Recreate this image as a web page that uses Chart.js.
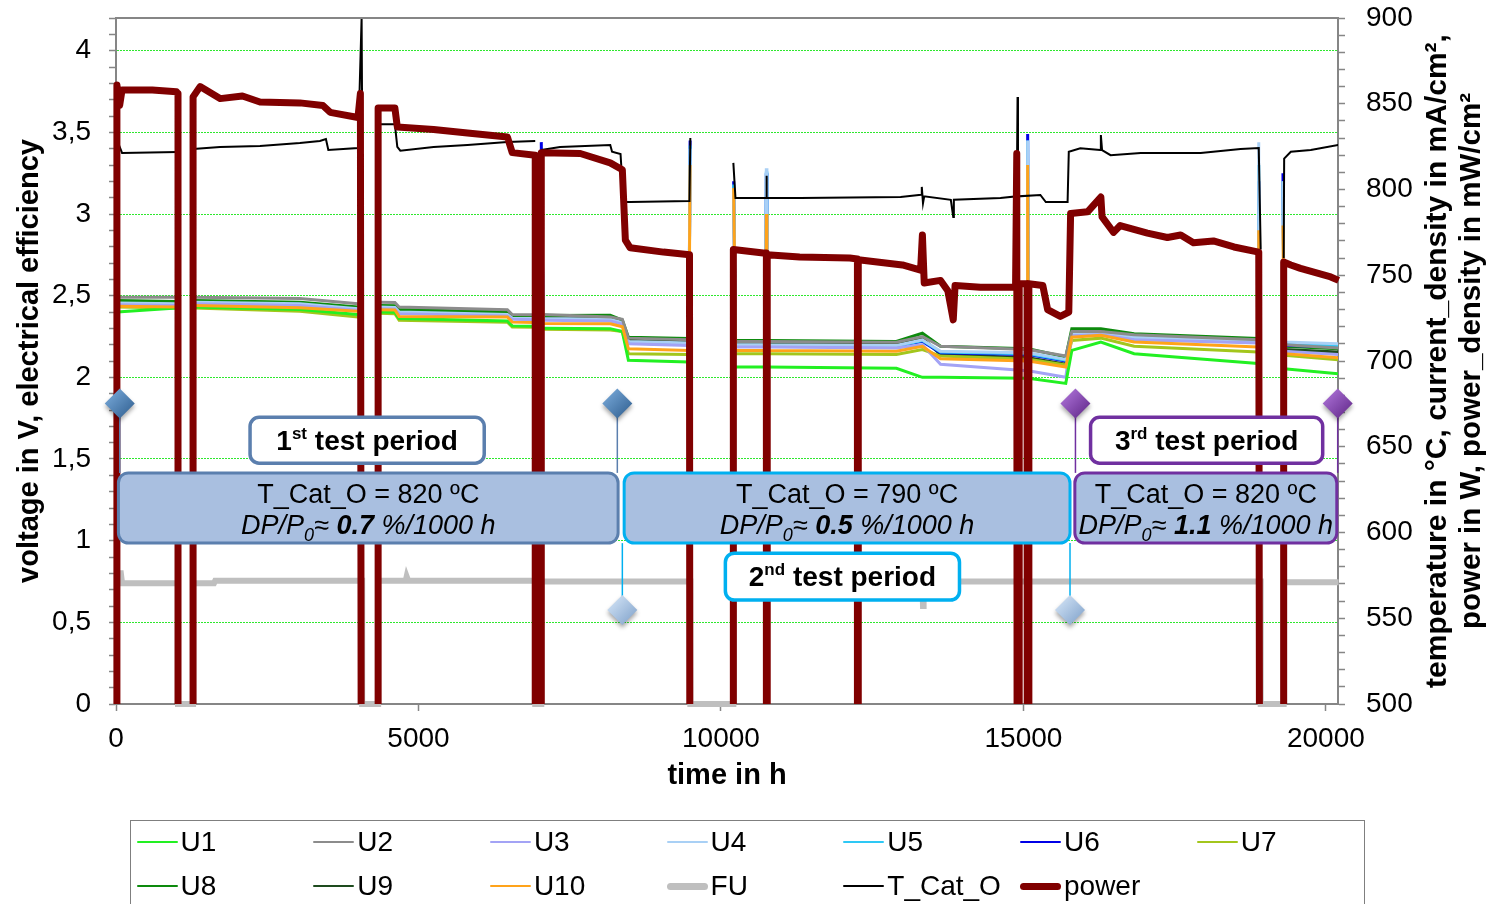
<!DOCTYPE html>
<html>
<head>
<meta charset="utf-8">
<title>stack long-term test</title>
<script src="https://cdn.jsdelivr.net/npm/chart.js@4.4.1/dist/chart.umd.min.js"></script>
<style>
  body { margin: 0; background: #fff; overflow: hidden; }
  #wrap { position: relative; width: 1491px; height: 904px; }
  #legend { position: absolute; left: 130px; top: 820px; width: 1235px; height: 100px;
            border: 1.5px solid #7f7f7f; box-sizing: border-box;
            font: 28px 'Liberation Sans', Arial, sans-serif; color: #000; }
  .item { position: absolute; height: 44px; display: flex; align-items: center; white-space: nowrap; }
  .sw { display: inline-block; width: 41px; margin-right: 3px; border-radius: 4px; }
</style>
</head>
<body>
<div id="wrap">
  <canvas id="chart" width="1491" height="904"></canvas>
  <div id="legend"></div>
</div>
<script>
let xTicks = [0, 5000, 10000, 15000, 20000];

// time (h) for the cell voltages, null = stack off
let tU = [20, 1000, 1020, 1150, 1280, 3040, 4000, 4050, 4200, 4340, 4610, 4680, 6470, 6550, 6920, 6980,
          7030, 7060, 8170, 8370, 8470, 9470, 9490, 9800, 10210, 10240, 10740, 10750, 10760, 12900,
          13330, 13630, 15060, 15070, 15080, 15700, 15800, 16280, 16830, 18880, 18890, 19100, 19290, 19310, 20210];

let U1 = [2.40, 2.425, 2.425, null, 2.43, 2.415, 2.385, 2.385, null, 2.40, 2.398, 2.36, 2.345, 2.315, 2.312, null,
          2.30, 2.30, 2.298, 2.28, 2.104, 2.094, 2.094, null, 2.063, 2.063, 2.063, 2.063, 2.063, 2.055,
          2.0, 2.0, 1.995, 1.995, 1.995, 1.963, 2.165, 2.216, 2.145, 2.084, 2.084, null, 2.053, 2.053, 2.022];
let U2 = [2.49, 2.49, 2.49, null, 2.49, 2.483, 2.45, 2.45, null, 2.46, 2.458, 2.43, 2.414, 2.385, 2.383, null,
          2.385, 2.385, 2.37, 2.355, 2.24, 2.23, 2.23, null, 2.22, 2.22, 2.22, 2.22, 2.22, 2.215,
          2.25, 2.19, 2.17, 2.17, 2.17, 2.13, 2.28, 2.28, 2.26, 2.23, 2.23, null, 2.2, 2.2, 2.18];
let U3 = [2.445, 2.44, 2.44, null, 2.45, 2.44, 2.41, 2.41, null, 2.42, 2.418, 2.39, 2.375, 2.355, 2.353, null,
          2.35, 2.35, 2.345, 2.325, 2.205, 2.195, 2.195, null, 2.185, 2.185, 2.185, 2.185, 2.185, 2.18,
          2.2, 2.08, 2.04, 2.04, 2.04, 2.0, 2.255, 2.26, 2.23, 2.21, 2.21, null, 2.16, 2.16, 2.14];
let U4 = [2.455, 2.45, 2.45, null, 2.46, 2.45, 2.42, 2.42, null, 2.43, 2.428, 2.40, 2.385, 2.362, 2.36, null,
          3.3, 2.36, 2.355, 2.335, 2.22, 2.21, 3.4, null, 3.15, 2.2, 2.2, 3.28, 2.2, 2.195,
          2.23, 2.16, 2.15, 3.45, 2.15, 2.11, 2.27, 2.275, 2.245, 2.225, 3.44, null, 3.2, 2.216, 2.206];
let U5 = [2.45, 2.445, 2.445, null, 2.455, 2.445, 2.415, 2.415, null, 2.425, 2.423, 2.395, 2.38, 2.36, 2.358, null,
          3.3, 2.355, 2.35, 2.33, 2.215, 2.205, 3.42, null, 3.18, 2.195, 2.195, 3.26, 2.195, 2.19,
          2.225, 2.155, 2.145, 3.45, 2.145, 2.105, 2.265, 2.27, 2.24, 2.22, 3.3, null, 3.2, 2.205, 2.195];
let U6 = [2.45, 2.445, 2.445, null, 2.455, 2.447, 2.415, 2.415, null, 2.425, 2.423, 2.395, 2.38, 2.36, 2.358, null,
          3.44, 2.355, 2.35, 2.33, 2.21, 2.20, 3.45, null, 3.2, 2.196, 2.195, 3.25, 2.195, 2.19,
          2.22, 2.15, 2.14, 3.49, 2.14, 2.10, 2.267, 2.27, 2.24, 2.222, 3.2, null, 3.25, 2.196, 2.185];
let U7 = [2.43, 2.425, 2.425, null, 2.425, 2.405, 2.37, 2.37, null, 2.393, 2.39, 2.35, 2.338, 2.308, 2.306, null,
          2.295, 2.295, 2.29, 2.28, 2.145, 2.14, 2.14, null, 2.145, 2.145, 2.145, 2.145, 2.145, 2.14,
          2.17, 2.13, 2.11, 2.11, 2.11, 2.075, 2.226, 2.24, 2.19, 2.155, 2.155, null, 2.135, 2.135, 2.108];
let U8 = [2.47, 2.465, 2.465, null, 2.47, 2.46, 2.43, 2.43, null, 2.44, 2.438, 2.415, 2.40, 2.373, 2.372, null,
          2.378, 2.378, 2.38, 2.35, 2.246, 2.237, 2.237, null, 2.226, 2.226, 2.226, 2.226, 2.226, 2.22,
          2.27, 2.19, 2.175, 2.175, 2.175, 2.124, 2.298, 2.298, 2.267, 2.237, 2.237, null, 2.19, 2.19, 2.175];
let U9 = [2.46, 2.455, 2.455, null, 2.46, 2.452, 2.42, 2.42, null, 2.43, 2.428, 2.405, 2.39, 2.365, 2.363, null,
          2.365, 2.365, 2.36, 2.34, 2.23, 2.22, 2.22, null, 2.21, 2.21, 2.21, 2.21, 2.21, 2.205,
          2.24, 2.14, 2.12, 2.12, 2.12, 2.08, 2.275, 2.28, 2.25, 2.22, 2.22, null, 2.17, 2.17, 2.155];
let U10 = [2.435, 2.43, 2.43, null, 2.44, 2.426, 2.405, 2.405, null, 2.414, 2.412, 2.373, 2.37, 2.338, 2.336, null,
           2.9, 2.33, 2.328, 2.31, 2.175, 2.165, 3.3, null, 3.16, 2.165, 2.165, 3.0, 2.165, 2.16,
           2.19, 2.114, 2.10, 3.3, 2.10, 2.063, 2.246, 2.257, 2.216, 2.185, 2.9, null, 2.93, 2.145, 2.12];

// fuel utilisation
let tFU = [15, 15, 80, 100, 1025, 1025, 1274, 1274, 1620, 1640, 4069, 4069, 4333, 4333, 4790, 4805, 4830,
           6930, 6930, 7030, 7030, 9494, 9494, 10205, 10205, 13330, 13340, 13350, 18922, 18922, 19302, 19302, 20210];
let FU = [0, 0.80, 0.80, 0.74, 0.74, 0, 0, 0.74, 0.74, 0.755, 0.755, 0, 0, 0.755, 0.755, 0.78, 0.755,
          0.755, 0, 0, 0.75, 0.75, 0, 0, 0.75, 0.75, 0.6, 0.75, 0.75, 0, 0, 0.745, 0.745];

// cathode outlet temperature
let tT = [15, 100, 1025, 1150, 1274, 1720, 2380, 3040, 3370, 3470, 3510, 4000, 4060, 4069, 4200,
          4333, 4610, 4650, 4700, 5250, 5810, 6470, 6930, 6980, 7030, 7340, 8170, 8200, 8340, 8390,
          8500, 9480, 9494, 9800, 10205, 10240, 10745, 10751, 10760, 11310, 12970, 13310, 13320, 13340, 13360,
          13800, 13840, 13850, 14620, 14890, 14903, 14910, 15280, 15370, 15730, 15750, 15940, 16270, 16280, 16300,
          16440, 16940, 17930, 18590, 18890, 18922, 19100, 19302, 19310, 19420, 19750, 20210];
let T_Cat_O = [829, 821.3, 821.9, null, 823.6, 824.8, 825.4, 827.1, 828.3, 829.4, 823.1, 824.2, 900, 840, null,
               838, 838, 824.8, 822.6, 824.8, 826, 827.7, 828.3, null, 823, 824.8, 826, 822, 820.7, 792.7,
               792.7, 793.3, 830, null, 815.5, 795, 795, 808, 795, 795, 795.6, 797, 801.5, 792, 796,
               794, 784, 794, 795, 796, 854, 796, 796.8, 792.7, 792.7, 822, 824, 823, 831.8, 823,
               820, 821.3, 821.3, 823.6, 824.2, 765, null, 760, 818, 822, 823, 826];

// stack power (0 while the stack is off)
let tP = [15, 15, 60, 100, 600, 1000, 1025, 1025, 1274, 1274, 1390, 1720, 2090, 2380, 3040, 3420, 3540, 4000,
          4040, 4069, 4333, 4333, 4610, 4650, 5250, 5810, 6470, 6550, 6930, 6930, 7030, 7030, 7675, 8170,
          8370, 8420, 8500, 9050, 9480, 9494, 10205, 10205, 10700, 10751, 10751, 10765, 10765, 11300, 12130,
          12256, 12256, 12270, 12270, 13000, 13300, 13330, 13360, 13630, 13750, 13840, 13870, 14290, 14870,
          14890, 14903, 14930, 14930, 15060, 15068, 15090, 15090, 15320, 15400, 15610, 15750, 15780, 16060,
          16280, 16300, 16490, 16600, 17050, 17380, 17600, 17810, 18140, 18480, 18890, 18922, 19302, 19302,
          19420, 19580, 20080, 20210];
let power = [0, 861, 849, 858, 858, 857, 856, 0, 0, 854, 860, 853, 854.5, 851, 850.5, 849, 845, 842,
             856, 0, 0, 847.5, 847.5, 836.5, 835, 833, 830.6, 821.5, 820, 0, 0, 821.5, 821, 815.5,
             811.5, 770.5, 766, 763.5, 762, 0, 0, 765, 763, 763, 0, 0, 762, 760.6, 760,
             759.5, 0, 0, 759, 756, 753, 773.5, 745.5, 747, 741, 724, 744, 743, 743,
             821, 0, 0, 745, 745, 0, 0, 745, 744, 730, 726, 728.5, 786, 787,
             795.6, 784, 775, 779, 774.6, 772, 773.5, 769, 770, 766.5, 763.5, 0, 0, 757.7,
             756, 754, 749, 747];

let cellNames = ['U1', 'U2', 'U3', 'U4', 'U5', 'U6', 'U7', 'U8', 'U9', 'U10'];
let cellData = [U1, U2, U3, U4, U5, U6, U7, U8, U9, U10];
let cellColors = ['#22f022', '#8c8c8c', '#a3a3f5', '#a9d0f5', '#2ec8f5', '#0000e6', '#a3c61c', '#0d8a0d', '#1e4b1e', '#ffa31a'];

function pts(t, v) {
    return t.map(function (x, i) { return { x: x, y: v[i] }; });
}

var datasets = [];
for (let i = 0; i < cellNames.length; i++) {
    datasets.push({
        label: cellNames[i], data: pts(tU, cellData[i]), yAxisID: 'y',
        borderColor: cellColors[i], backgroundColor: cellColors[i], borderWidth: 3,
        order: cellNames[i] === 'U10' ? 2 : 3
    });
}
datasets.push({ label: 'FU', data: pts(tFU, FU), yAxisID: 'y', borderColor: '#bfbfbf', backgroundColor: '#bfbfbf',
                borderWidth: 6, order: 4, clip: { left: 5, right: 5, top: 5, bottom: 3 } });
datasets.push({ label: 'T_Cat_O', data: pts(tT, T_Cat_O), yAxisID: 'y1', borderColor: '#000', backgroundColor: '#000',
                borderWidth: 2, order: 1 });
datasets.push({ label: 'power', data: pts(tP, power), yAxisID: 'y1', borderColor: '#800000', backgroundColor: '#800000',
                borderWidth: 7, borderJoinStyle: 'round', order: 0, clip: { left: 5, right: 5, top: 5, bottom: 0 } });

const FONT = "'Liberation Sans', Arial, sans-serif";
Chart.defaults.font.family = FONT;
Chart.defaults.color = '#000';

// helpers for the test period notes
function rr(ctx, x, y, w, h, r) {
    ctx.beginPath();
    ctx.moveTo(x + r, y);
    ctx.arcTo(x + w, y, x + w, y + h, r);
    ctx.arcTo(x + w, y + h, x, y + h, r);
    ctx.arcTo(x, y + h, x, y, r);
    ctx.arcTo(x, y, x + w, y, r);
    ctx.closePath();
}
function rich(ctx, parts, cx, base) {
    var w = 0;
    parts.forEach(function (p) { ctx.font = p.f; p.w = ctx.measureText(p.t).width; w += p.w; });
    var x = cx - w / 2;
    ctx.textAlign = 'left';
    ctx.textBaseline = 'alphabetic';
    ctx.fillStyle = '#000';
    parts.forEach(function (p) { ctx.font = p.f; ctx.fillText(p.t, x, base + (p.dy || 0)); x += p.w; });
}
function diamond(ctx, x, y, r, c1, c2) {
    ctx.save();
    ctx.shadowColor = 'rgba(0,0,0,0.35)';
    ctx.shadowBlur = 4;
    ctx.shadowOffsetY = 3;
    var g = ctx.createLinearGradient(x - r, y - r, x + r, y + r);
    g.addColorStop(0, c1);
    g.addColorStop(1, c2);
    ctx.beginPath();
    ctx.moveTo(x, y - r); ctx.lineTo(x + r, y); ctx.lineTo(x, y + r); ctx.lineTo(x - r, y);
    ctx.closePath();
    ctx.fillStyle = g;
    ctx.fill();
    ctx.restore();
}

const periods = [
    { x1: 40, x2: 8300, temp: '820', rate: '0.7', edge: '#5b7fae', tag: ['1', 'st'], tagX1: 2216, tagX2: 6087, tagTop: 1.755, tagBot: 1.474,
      d1: 62, d2: 8287, dTop: true, dark: ['#7fb0e0', '#2c5b8c'] },
    { x1: 8400, x2: 15770, temp: '790', rate: '0.5', edge: '#00b0f0', tag: ['2', 'nd'], tagX1: 10073, tagX2: 13943, tagTop: 0.9235, tagBot: 0.636,
      d1: 8370, d2: 15770, dTop: false, dark: ['#dbeafa', '#7b9ec8'] },
    { x1: 15850, x2: 20180, temp: '820', rate: '1.1', edge: '#7030a0', tag: ['3', 'rd'], tagX1: 16110, tagX2: 19947, tagTop: 1.755, tagBot: 1.474,
      d1: 15860, d2: 20195, dTop: true, dark: ['#b57ae0', '#5c2384'] }
];

const notes = {
    id: 'notes',
    afterDatasetsDraw(chart) {
        const ctx = chart.ctx, a = chart.chartArea;
        const X = chart.scales.x, Y = chart.scales.y;
        ctx.save();
        // top frame line
        ctx.strokeStyle = '#868686'; ctx.lineWidth = 2;
        ctx.beginPath(); ctx.moveTo(a.left, a.top); ctx.lineTo(a.right, a.top); ctx.stroke();

        const boxTop = Y.getPixelForValue(1.415), boxBot = Y.getPixelForValue(0.985);
        const dUp = Y.getPixelForValue(1.84), dLow = Y.getPixelForValue(0.575);
        periods.forEach(function (p) {
            ctx.strokeStyle = p.edge; ctx.lineWidth = 1.5;
            [p.d1, p.d2].forEach(function (d) {
                const x = X.getPixelForValue(d);
                ctx.beginPath();
                if (p.dTop) { ctx.moveTo(x, dUp); ctx.lineTo(x, boxTop); }
                else { ctx.moveTo(x, boxBot); ctx.lineTo(x, dLow); }
                ctx.stroke();
            });
            // main box
            const bx1 = X.getPixelForValue(p.x1), bx2 = X.getPixelForValue(p.x2);
            rr(ctx, bx1, boxTop, bx2 - bx1, boxBot - boxTop, 10);
            ctx.fillStyle = '#a9bfe0'; ctx.fill();
            ctx.strokeStyle = p.edge; ctx.lineWidth = 3; ctx.stroke();
            const cx = (bx1 + bx2) / 2;
            rich(ctx, [{ t: 'T_Cat_O = ' + p.temp + ' ºC', f: '27px ' + FONT }], cx, boxTop + 30);
            rich(ctx, [
                { t: 'DP/P', f: 'italic 27px ' + FONT },
                { t: '0', f: 'italic 18px ' + FONT, dy: 7 },
                { t: '≈ ', f: 'italic 27px ' + FONT },
                { t: p.rate, f: 'italic bold 27px ' + FONT },
                { t: ' %/1000 h', f: 'italic 27px ' + FONT }
            ], cx, boxTop + 61);
            // tag box
            const tx1 = X.getPixelForValue(p.tagX1), tx2 = X.getPixelForValue(p.tagX2);
            const ty1 = Y.getPixelForValue(p.tagTop), ty2 = Y.getPixelForValue(p.tagBot);
            rr(ctx, tx1, ty1, tx2 - tx1, ty2 - ty1, 9);
            ctx.fillStyle = '#fff'; ctx.fill();
            ctx.strokeStyle = p.edge; ctx.lineWidth = 3.5; ctx.stroke();
            rich(ctx, [
                { t: p.tag[0], f: 'bold 28px ' + FONT },
                { t: p.tag[1], f: 'bold 17px ' + FONT, dy: -11 },
                { t: ' test period', f: 'bold 28px ' + FONT }
            ], (tx1 + tx2) / 2, ty1 + 33);
            // markers
            [p.d1, p.d2].forEach(function (d) {
                diamond(ctx, X.getPixelForValue(d), p.dTop ? dUp : dLow, 15, p.dark[0], p.dark[1]);
            });
        });
        ctx.restore();
    },
    afterDraw(chart) {
        const ctx = chart.ctx, a = chart.chartArea;
        const cy = (a.top + a.bottom) / 2;
        ctx.save();
        ctx.fillStyle = '#000';
        ctx.textAlign = 'center';
        ctx.textBaseline = 'middle';
        [['temperature in °C, current_density in mA/cm²,', 1438, 30], ['power in W, power_density in mW/cm²', 1472, 29.5]].forEach(function (l) {
            ctx.save();
            ctx.font = 'bold ' + l[2] + 'px ' + FONT;
            ctx.translate(l[1], cy);
            ctx.rotate(-Math.PI / 2);
            ctx.fillText(l[0], 0, 0);
            ctx.restore();
        });
        ctx.restore();
    }
};

function noPadY(s, w) { s.width = w; s.paddingTop = 0; s.paddingBottom = 0; }

let context = document.querySelector('#chart').getContext('2d');
let chart = new Chart(context, {
    type: 'line',
    data: { datasets: datasets },
    plugins: [notes],
    options: {
        responsive: false,
        animation: false,
        devicePixelRatio: 1,
        layout: { padding: { left: 0, right: 0, top: 18, bottom: 107 } },
        elements: { point: { radius: 0 }, line: { tension: 0, fill: false } },
        plugins: { legend: { display: false }, tooltip: { enabled: false } },
        scales: {
            x: {
                type: 'linear', min: 0, max: 20200, bounds: 'data',
                afterBuildTicks: function (s) { s.ticks = xTicks.map(function (v) { return { value: v }; }); },
                ticks: { padding: 11, maxRotation: 0, autoSkip: false, font: { size: 28 }, color: '#000',
                         callback: function (v) { return String(v); } },
                grid: { drawOnChartArea: false, tickLength: 7, tickColor: '#868686', tickWidth: 1.5 },
                border: { color: '#868686', width: 2 },
                title: { display: true, text: 'time in h', color: '#000', font: { size: 29, weight: 'bold' }, padding: { top: 0, bottom: 4 } },
                afterFit: function (s) { s.height = 93; s.paddingLeft = 0; s.paddingRight = 0; }
            },
            y: {
                position: 'left', min: 0, max: 4.2, bounds: 'data',
                ticks: {
                    stepSize: 0.1, autoSkip: false, padding: 18, font: { size: 28 }, color: '#000',
                    callback: function (v) {
                        const k = Math.round(v * 10);
                        return (k % 5 === 0 && k <= 40) ? String(k / 10).replace('.', ',') : '';
                    }
                },
                grid: {
                    color: function (c) {
                        if (!c.tick) return 'rgba(0,0,0,0)';
                        const k = Math.round(c.tick.value * 10);
                        return (k % 5 === 0 && k > 0 && k <= 40) ? '#2ee82e' : 'rgba(0,0,0,0)';
                    },
                    lineWidth: 1, tickLength: 7, tickColor: '#868686', tickWidth: 1.5
                },
                border: { color: '#868686', width: 2, dash: [2, 1] },
                title: { display: true, text: 'voltage in V, electrical efficiency', color: '#000', font: { size: 29, weight: 'bold' }, padding: { top: 13, bottom: 0 } },
                afterFit: function (s) { noPadY(s, 116); }
            },
            y1: {
                position: 'right', min: 500, max: 900, bounds: 'data',
                ticks: {
                    stepSize: 10, autoSkip: false, padding: 21, font: { size: 28 }, color: '#000',
                    callback: function (v) { return Math.round(v) % 50 === 0 ? String(Math.round(v)) : ''; }
                },
                grid: { drawOnChartArea: false, tickLength: 7, tickColor: '#868686', tickWidth: 1.5 },
                border: { color: '#868686', width: 2 },
                afterFit: function (s) { noPadY(s, 153); }
            }
        }
    }
});

// legend box like the original (7 columns)
var leg = document.getElementById('legend');
chart.data.datasets.forEach(function (d, i) {
    var item = document.createElement('div');
    item.className = 'item';
    item.style.left = (5.5 + (i % 7) * 176.7) + 'px';
    item.style.top = (Math.floor(i / 7) * 44 - 1) + 'px';
    var thick = d.borderWidth > 3;
    item.innerHTML = '<span class="sw" style="height:' + (thick ? 7 : 2) + 'px;background:' + d.borderColor + '"></span>' + d.label;
    leg.appendChild(item);
});
</script>
</body>
</html>
